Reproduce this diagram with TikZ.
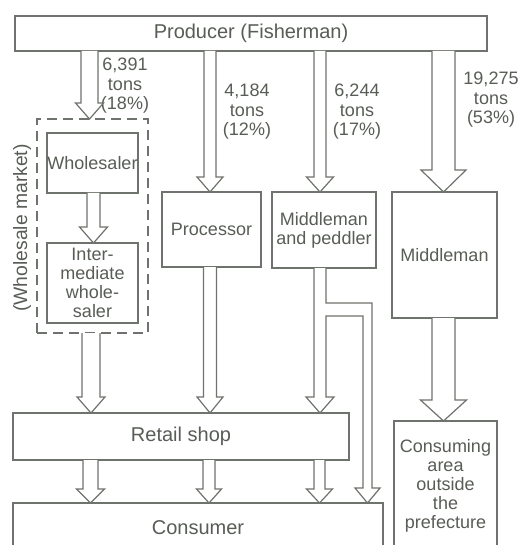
\documentclass[tikz,border=0pt]{standalone}
\usepackage{fontspec}
\setmainfont{Liberation Sans}
\usetikzlibrary{calc}

\newcommand{\pxu}{0.75pt}
% block arrow: from node, to node, x, half shaft, half head, head length
\newcommand{\fatarrow}[6]{%
  \coordinate (fa top) at (#1.south -| #3,0);
  \coordinate (fa tip) at (#2.north -| #3,0);
  \draw[flow] ($(fa top)+(-#4,0)$) -- ($(fa tip)+(-#4,-#6)$) -- ($(fa tip)+(-#5,-#6)$)
    -- (fa tip) -- ($(fa tip)+(#5,-#6)$) -- ($(fa tip)+(#4,-#6)$) -- ($(fa top)+(#4,0)$);
}

\begin{document}
\begin{tikzpicture}[x=0.75pt,y=-0.75pt,
    box/.style={draw=linec, line width=0.9pt, text=textc, align=center, inner sep=0pt, outer sep=0pt},
    big/.style={font=\fontsize{15}{17}\selectfont},
    small/.style={font=\fontsize{13.5}{14.2}\selectfont},
    flow/.style={draw=linec, line width=0.9pt, fill=white},
    lbl/.style={text=textc, align=center, inner sep=0pt, font=\fontsize{13.5}{14.6}\selectfont}]
        \definecolor{linec}{HTML}{6F736D}
        \definecolor{textc}{HTML}{585D56}

        \path[use as bounding box, fill=white] (0,0) rectangle (523,545);
        \clip (0,0) rectangle (523,545);

        \node[box, big, minimum width=472*\pxu, minimum height=35*\pxu] (prod) at (251,33.5) {Producer (Fisherman)};

        \node[box, dashed, dash pattern=on 7.5pt off 4.5pt, minimum width=111*\pxu, minimum height=214*\pxu] (wm) at (92.5,226) {};
        \node[box, small, minimum width=91*\pxu, minimum height=60*\pxu] (whl) at (92.5,163) {Wholesaler};
        \node[box, small, minimum width=91*\pxu, minimum height=80*\pxu] (inter) at (92.5,283) {Inter-\\mediate\\whole-\\saler};
        \node[lbl, rotate=90, font=\fontsize{14.5}{15}\selectfont] (wmlbl) at (22,228) {(Wholesale market)};

        \node[box, small, minimum width=99*\pxu, minimum height=75*\pxu] (proc) at (211.5,229.5) {Processor};
        \node[box, small, minimum width=104*\pxu, minimum height=76*\pxu] (mp) at (324,230) {Middleman\\and peddler};
        \node[box, small, minimum width=105*\pxu, minimum height=126*\pxu] (mid) at (444.5,255) {Middleman};

        \node[box, big, minimum width=336*\pxu, minimum height=47*\pxu] (retail) at (181,436.5) {Retail shop};
        \node[box, big, minimum width=370*\pxu, minimum height=50*\pxu] (cons) at (198,528) {Consumer};
        \node[box, small, minimum width=103*\pxu, minimum height=130*\pxu] (area) at (445.5,486) {Consuming\\area\\outside\\the\\prefecture};

        \node[lbl] (q1) at (125,86) {6,391\\tons\\(18\%)};
        \node[lbl] (q2) at (247,112) {4,184\\tons\\(12\%)};
        \node[lbl] (q3) at (357,112) {6,244\\tons\\(17\%)};
        \node[lbl] (q4) at (491,100) {19,275\\tons\\(53\%)};

        \fatarrow{prod}{wm}{89.5}{8.5}{14}{16}
        \fatarrow{whl}{inter}{93.5}{6.5}{14}{16}
        \fatarrow{wm}{retail}{91}{9}{14}{16}
        \fatarrow{prod}{proc}{210}{6}{13}{15}
        \fatarrow{proc}{retail}{210}{6.5}{13}{16}
        \fatarrow{prod}{mp}{320}{6}{13.5}{15}
        \fatarrow{prod}{mid}{443.5}{11.5}{22.5}{22}
        \fatarrow{mid}{area}{443.5}{11.5}{23}{21}
        \fatarrow{retail}{cons}{90.5}{7.5}{14}{14}
        \fatarrow{retail}{cons}{209}{6}{12.5}{14}
        \fatarrow{retail}{cons}{319.5}{5.5}{13}{14}

        \draw[flow] (mp.south -| 314,0) -- (314,397) -- (306,397) -- (retail.north -| 320,0)
          -- (334,397) -- (326,397) -- (326,316) -- (363,316) -- (363,488) -- (355,488)
          -- (cons.north -| 367.5,0) -- (380,488) -- (372,488) -- (372,303) -- (326,303)
          -- (mp.south -| 326,0);
    \end{tikzpicture}
\end{document}
